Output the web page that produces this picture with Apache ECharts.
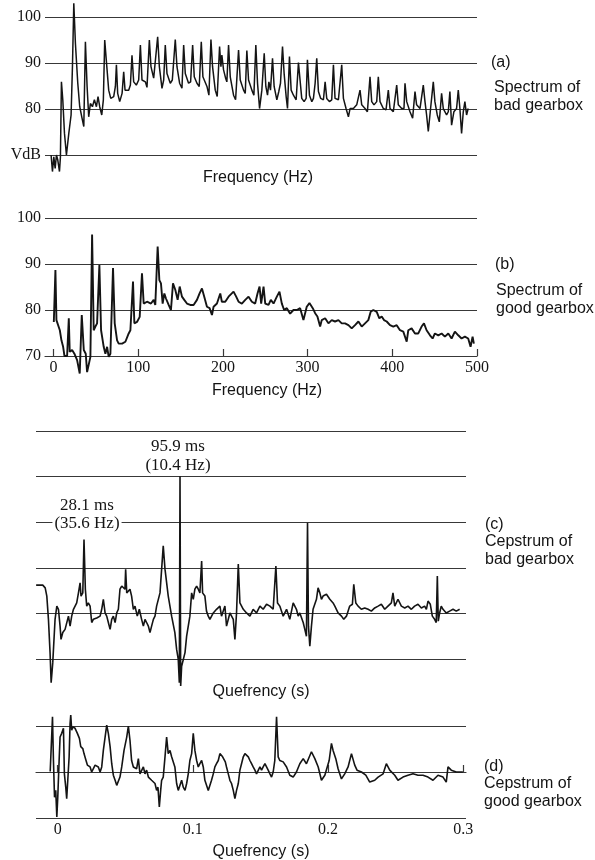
<!DOCTYPE html>
<html>
<head>
<meta charset="utf-8">
<script src="https://cdn.jsdelivr.net/npm/echarts@6/dist/echarts.min.js"></script>
<style>
html,body{margin:0;padding:0;background:#fff;}
#chart{width:595px;height:860px;}
</style>
</head>
<body>
<div id="chart"></div>
<script>
// ---- data ----
// (a) spectrum of bad gearbox: [frequency Hz, level dB]
const badSpectrum = [[-2.8,70.0],[-1.2,66.4],[0.4,69.6],[2.0,67.1],[3.5,70.0],[5.1,68.9],[7.1,66.4],[8.2,69.6],[9.4,85.9],[11.0,82.0],[13.0,74.7],[15.3,70.0],[18.1,74.7],[20.8,78.7],[22.4,89.2],[24.0,103.0],[25.9,94.3],[28.7,85.6],[31.0,80.5],[33.4,78.3],[35.8,76.2],[37.7,94.6],[39.7,84.9],[41.6,78.3],[43.6,81.2],[46.0,80.5],[48.3,82.0],[50.7,80.5],[52.6,82.7],[54.6,80.5],[57.0,78.7],[58.9,82.0],[60.5,95.0],[62.5,90.3],[65.2,84.1],[67.6,82.3],[71.1,82.7],[73.1,84.9],[74.3,89.6],[75.8,83.4],[78.2,81.6],[81.0,83.4],[82.9,88.1],[84.5,84.1],[88.8,84.1],[90.8,85.2],[92.7,91.7],[94.7,85.9],[97.8,85.2],[100.6,86.3],[102.6,93.9],[104.5,86.3],[108.5,85.9],[110.4,84.7],[113.2,95.0],[115.1,89.2],[118.3,86.7],[120.6,86.3],[123.0,95.7],[125.0,89.2],[128.1,84.5],[130.1,86.3],[132.0,93.9],[134.0,87.7],[137.9,85.6],[140.3,86.3],[143.8,95.1],[145.8,89.2],[148.9,85.6],[151.7,84.5],[153.7,93.9],[155.6,87.7],[159.5,85.6],[161.9,85.9],[164.3,93.9],[166.2,87.0],[169.4,85.6],[172.1,84.9],[174.5,94.6],[176.4,87.0],[181.2,84.9],[183.5,83.0],[185.9,95.1],[187.8,89.2],[191.0,84.1],[193.3,82.7],[196.1,93.6],[197.7,89.2],[198.8,91.7],[200.8,88.5],[203.2,86.7],[204.7,85.9],[206.7,93.9],[208.7,87.0],[212.6,83.0],[215.0,82.0],[218.5,92.8],[220.5,86.3],[224.4,84.1],[226.4,83.4],[228.3,92.7],[230.3,86.3],[234.2,84.1],[236.6,83.0],[238.9,93.9],[240.9,85.6],[243.3,80.1],[246.0,84.1],[248.8,92.1],[250.7,84.9],[252.7,83.0],[254.3,85.9],[256.2,84.1],[258.6,91.0],[260.5,84.9],[263.7,82.0],[266.0,83.8],[268.0,85.6],[270.4,93.6],[272.3,87.7],[274.7,82.7],[276.3,80.1],[278.6,91.4],[280.6,84.1],[283.3,83.0],[286.5,82.0],[289.2,90.1],
[293.1,82.3],[295.9,81.6],[298.3,82.3],[299.8,90.7],[302.2,83.0],[305.0,81.6],[306.9,82.3],[308.9,85.6],[310.8,91.0],[312.8,83.8],[315.5,82.3],[318.7,82.0],[320.7,85.9],[322.6,82.3],[325.8,81.6],[328.5,82.0],[330.5,89.6],[332.4,82.3],[336.4,82.0],[338.3,81.6],[340.3,89.6],[342.3,82.3],[345.4,80.1],[348.2,78.3],[350.1,80.1],[354.1,80.1],[358.0,80.9],[361.9,84.1],[363.9,80.9],[367.8,80.1],[370.6,79.4],[373.7,87.0],[375.7,81.6],[378.4,80.9],[381.6,81.6],[383.5,87.0],[385.5,81.6],[389.4,80.1],[392.6,79.8],[395.3,84.1],[397.3,80.1],[401.2,79.4],[405.2,85.2],[407.1,80.9],[411.1,80.1],[413.8,80.1],[415.0,85.6],[417.0,81.6],[420.9,79.4],[424.0,78.0],[426.8,83.8],[428.7,80.9],[432.7,80.1],[436.6,85.2],[438.6,81.6],[440.5,78.7],[442.5,75.1],[445.2,80.1],[448.4,85.9],[450.3,81.6],[453.1,78.7],[455.5,77.2],[458.2,83.4],[460.2,80.1],[464.1,78.7],[466.1,79.4],[468.0,83.8],[470.0,76.5],[472.7,79.4],[475.9,80.1],[477.9,84.1],[479.8,80.1],[481.8,74.7],[483.8,79.4],[485.7,81.6],[487.7,78.7],[489.6,80.1]];

// (b) spectrum of good gearbox: [frequency Hz, level dB]
const goodSpectrum = [[0.4,77.4],[2.3,88.7],[3.5,77.8],[5.5,77.4],[7.5,75.6],[9.4,73.4],[11.4,72.0],[13.0,70.0],[16.1,70.0],[18.1,78.2],[19.2,70.9],[22.0,71.3],[24.7,70.5],[27.9,69.1],[31.0,66.2],[33.4,78.9],[35.8,71.3],[38.1,70.5],[39.7,66.5],[41.6,66.9],[43.6,69.8],[45.6,96.4],[47.5,75.6],[49.5,76.4],[51.5,77.1],[54.2,89.8],[56.2,75.6],[59.3,72.0],[61.3,70.5],[63.3,72.0],[65.2,69.8],[67.2,70.5],[70.3,89.1],[72.3,77.1],[75.1,73.4],[77.0,72.7],[81.0,72.7],[84.9,73.1],[88.8,74.9],[90.8,75.6],[93.9,86.2],[95.5,77.1],[98.6,77.4],[101.8,78.5],[104.5,88.0],[106.5,81.4],[110.4,81.8],[115.1,81.4],[118.3,82.2],[120.2,81.1],[123.0,93.8],[125.0,86.5],[126.9,85.8],[128.9,81.4],[130.9,83.6],[132.8,82.5],[136.0,81.1],[138.7,80.0],[141.1,85.8],[143.8,84.4],[146.6,82.2],[149.0,85.1],[151.7,82.9],[154.4,82.2],[157.6,81.4],[161.5,81.1],[165.4,81.1],[169.4,82.2],[172.5,83.6],[175.3,84.7],[178.0,82.9],[181.2,80.7],[184.3,80.4],[187.1,78.9],[189.0,80.7],[193.0,81.4],[196.9,83.6],[198.8,81.8],[202.8,81.8],[206.7,82.9],[212.6,84.0],[215.7,82.9],[218.5,81.8],[222.4,81.4],[226.4,82.2],[230.3,82.9],[234.2,81.8],[238.1,81.4],[240.9,83.6],[243.3,85.1],[245.2,81.4],[248.0,85.1],[250.0,81.4],[253.9,81.1],[256.6,82.2],[259.8,81.4],[263.7,82.9],[266.8,84.0],[269.6,81.4],[272.3,80.0],[275.5,80.4],[279.4,79.2],[283.3,80.0],[287.3,80.0],[291.2,80.4],[295.1,77.8],[299.0,80.7],[302.2,81.5],[303.8,81.8],[306.1,80.4],[308.9,79.3],[311.6,78.6],[314.8,76.4],[316.7,77.8],[320.7,78.2],[324.6,77.1],[328.5,77.8],[332.4,77.5],[336.4,77.8],[340.3,77.1],[344.2,77.1],[348.2,76.7],[352.1,76.0],[356.0,76.7],[360.0,77.5],[363.9,76.4],[367.8,77.1],[371.7,77.8],[374.5,79.6],[377.6,80.0],[381.6,79.6],[384.7,78.2],[387.5,78.6],[390.2,77.8],[393.4,77.5],[397.3,76.7],[401.2,76.4],[405.2,76.7],[409.1,75.6],[413.0,75.3],[417.0,73.1],[418.9,75.6],[422.8,76.0],[426.8,74.9],[430.7,74.9],[434.6,76.4],[437.4,77.1],[440.5,75.6],[444.5,74.5],[447.6,73.8],[450.3,74.9],[454.3,74.5],[458.2,74.9],[462.1,74.2],[466.1,74.9],[470.0,73.8],[473.9,75.3],[477.9,74.5],[481.8,73.8],[485.7,74.2],[489.6,73.8],[492.4,72.0],[494.8,74.2],[496.3,72.7]];

// (c) cepstrum of bad gearbox: [quefrency s, amplitude]
const badCepstrum = [[-0.0159,0.62],[-0.0110,0.62],[-0.0092,0.56],[-0.0080,0.38],[-0.0068,-0.13],[-0.0056,-0.86],[-0.0048,-1.52],[-0.0036,-1.08],[-0.0019,-0.13],[-0.0006,0.16],[0.0006,0.09],[0.0018,-0.28],[0.0025,-0.57],[0.0038,-0.42],[0.0055,-0.35],[0.0067,-0.35],[0.0080,-0.06],[0.0092,-0.28],[0.0104,-0.06],[0.0117,0.09],[0.0129,0.09],[0.0141,0.23],[0.0154,0.45],[0.0166,0.67],[0.0173,0.38],[0.0186,0.45],[0.0195,1.62],[0.0205,0.53],[0.0215,0.16],[0.0227,0.23],[0.0240,0.16],[0.0252,-0.20],[0.0264,-0.13],[0.0289,-0.10],[0.0314,-0.06],[0.0326,0.09],[0.0338,0.31],[0.0351,0.01],[0.0363,-0.06],[0.0375,-0.20],[0.0388,-0.35],[0.0400,-0.13],[0.0412,-0.06],[0.0425,-0.20],[0.0437,0.01],[0.0449,0.09],[0.0461,0.53],[0.0474,0.60],[0.0498,0.53],[0.0503,0.97],[0.0511,0.45],[0.0535,0.53],[0.0547,0.38],[0.0560,0.09],[0.0572,0.16],[0.0589,-0.06],[0.0604,0.09],[0.0621,-0.13],[0.0634,-0.28],[0.0646,-0.13],[0.0658,-0.20],[0.0671,-0.28],[0.0683,-0.42],[0.0695,-0.28],[0.0708,-0.13],[0.0720,-0.06],[0.0732,0.16],[0.0757,0.45],[0.0781,1.48],[0.0794,0.97],[0.0818,0.38],[0.0843,-0.06],[0.0867,-0.42],[0.0880,-0.79],[0.0892,-1.01],[0.0900,-1.52],[0.0905,3.01],[0.0910,-1.59],[0.0917,-1.16],[0.0929,-1.16],[0.0942,-0.86],[0.0954,-0.50],[0.0978,-0.06],[0.0991,0.45],[0.1003,0.31],[0.1015,0.53],[0.1028,0.60],[0.1040,0.53],[0.1052,0.45],[0.1065,1.15],[0.1072,0.45],[0.1089,0.38],[0.1101,0.05],[0.1114,-0.06],[0.1126,-0.13],[0.1151,0.01],[0.1175,0.09],[0.1200,0.16],[0.1212,-0.06],[0.1237,0.16],[0.1249,-0.28],[0.1274,0.01],[0.1299,-0.13],[0.1311,-0.57],[0.1323,0.01],[0.1336,1.08],[0.1348,0.23],[0.1373,0.09],[0.1397,0.01],[0.1422,-0.06],[0.1446,0.09],[0.1471,0.01],[0.1496,0.16],[0.1520,0.09],[0.1545,0.20],[0.1570,0.16],[0.1594,0.09],[0.1614,1.04],[0.1626,0.23],[0.1643,0.16],[0.1668,-0.06],[0.1693,0.09],[0.1717,-0.13],[0.1742,0.23],[0.1754,0.27],[0.1766,0.09],[0.1779,-0.06],[0.1791,0.01],[0.1816,-0.20],[0.1828,-0.35],[0.1840,-0.50],[0.1848,1.99],[0.1855,-0.28],[0.1865,-0.72],[0.1877,-0.28],[0.1889,0.09],[0.1914,0.31],[0.1926,0.56],[0.1939,0.45],[0.1951,0.31],[0.1963,0.38],[0.1988,0.42],[0.2013,0.31],[0.2037,0.23],[0.2050,0.16],[0.2074,0.01],[0.2099,-0.06],[0.2116,-0.13],[0.2136,-0.06],[0.2160,0.16],[0.2180,0.20],[0.2190,0.64],[0.2205,0.23],[0.2222,0.16],[0.2246,0.09],[0.2271,0.12],[0.2296,0.09],[0.2320,0.05],[0.2345,0.12],[0.2370,0.16],[0.2394,0.20],[0.2419,0.09],[0.2443,0.16],[0.2468,0.23],[0.2480,0.45],[0.2493,0.16],[0.2517,0.31],[0.2542,0.16],[0.2567,0.12],[0.2591,0.16],[0.2616,0.09],[0.2640,0.16],[0.2665,0.20],[0.2690,0.12],[0.2714,0.16],[0.2727,0.09],[0.2739,0.27],[0.2756,0.20],[0.2771,-0.06],[0.2788,-0.13],[0.2800,-0.20],[0.2808,0.82],[0.2815,-0.17],[0.2825,0.01],[0.2837,0.16],[0.2850,0.09],[0.2874,0.01],[0.2899,0.05],[0.2924,0.09],[0.2948,0.05],[0.2973,0.09]];

// (d) cepstrum of good gearbox: [quefrency s, amplitude]
const goodCepstrum = [[-0.0055,0.01],[-0.0043,0.01],[-0.0038,1.20],[-0.0031,0.25],[-0.0023,-0.55],[-0.0014,-0.40],[-0.0006,-0.98],[0.0001,-0.55],[0.0011,0.25],[0.0018,0.76],[0.0030,0.84],[0.0043,0.95],[0.0050,-0.04],[0.0060,-0.33],[0.0067,-0.58],[0.0075,-0.18],[0.0085,0.33],[0.0092,1.05],[0.0097,1.24],[0.0104,0.91],[0.0112,0.98],[0.0129,0.95],[0.0146,0.84],[0.0161,0.73],[0.0171,0.55],[0.0186,0.51],[0.0195,0.40],[0.0210,0.25],[0.0220,0.15],[0.0230,0.18],[0.0240,0.11],[0.0252,0.00],[0.0264,-0.04],[0.0277,0.15],[0.0289,0.18],[0.0301,0.11],[0.0314,0.00],[0.0326,0.11],[0.0338,0.47],[0.0351,0.76],[0.0363,1.02],[0.0375,0.84],[0.0388,0.55],[0.0400,0.18],[0.0412,-0.07],[0.0425,-0.18],[0.0437,-0.29],[0.0449,-0.25],[0.0461,-0.11],[0.0474,0.11],[0.0491,0.47],[0.0511,0.76],[0.0523,1.00],[0.0535,0.69],[0.0547,0.25],[0.0560,0.11],[0.0572,0.15],[0.0584,0.07],[0.0597,0.29],[0.0609,-0.04],[0.0621,0.00],[0.0634,0.11],[0.0646,-0.04],[0.0658,0.04],[0.0671,-0.11],[0.0683,-0.07],[0.0695,-0.18],[0.0708,-0.18],[0.0720,-0.25],[0.0732,-0.40],[0.0742,-0.33],[0.0752,-0.76],[0.0762,-0.40],[0.0769,-0.18],[0.0781,-0.11],[0.0794,0.33],[0.0806,0.76],[0.0818,0.40],[0.0831,0.47],[0.0843,0.33],[0.0855,0.29],[0.0867,0.11],[0.0880,-0.25],[0.0892,-0.40],[0.0905,-0.40],[0.0917,-0.18],[0.0929,-0.33],[0.0942,-0.40],[0.0954,-0.25],[0.0966,-0.04],[0.0978,0.25],[0.0991,0.40],[0.1003,0.84],[0.1015,0.47],[0.1028,0.25],[0.1040,0.11],[0.1052,0.18],[0.1065,0.25],[0.1077,0.11],[0.1089,-0.18],[0.1101,-0.22],[0.1114,-0.40],[0.1126,-0.40],[0.1138,-0.18],[0.1151,-0.04],[0.1163,0.11],[0.1175,0.18],[0.1188,0.25],[0.1200,0.40],[0.1212,0.40],[0.1220,0.33],[0.1230,0.36],[0.1240,0.22],[0.1249,0.11],[0.1262,-0.04],[0.1274,-0.18],[0.1286,-0.25],[0.1299,-0.40],[0.1311,-0.58],[0.1323,-0.40],[0.1336,-0.25],[0.1348,0.04],[0.1360,0.18],[0.1373,0.33],[0.1385,0.40],[0.1397,0.36],[0.1410,0.33],[0.1422,0.25],[0.1434,0.18],[0.1446,0.11],[0.1459,0.04],[0.1471,-0.04],[0.1483,0.00],[0.1496,0.11],[0.1508,0.04],[0.1520,0.11],[0.1533,0.18],[0.1545,0.11],[0.1557,0.04],[0.1570,-0.04],[0.1582,-0.11],[0.1594,0.00],[0.1606,0.25],[0.1619,1.20],[0.1631,0.33],[0.1643,0.25],[0.1668,0.22],[0.1693,0.11],[0.1717,-0.07],[0.1742,-0.11],[0.1766,0.00],[0.1791,0.18],[0.1816,0.29],[0.1840,0.18],[0.1877,0.44],[0.1902,0.29],[0.1927,0.11],[0.1951,-0.18],[0.1976,-0.07],[0.2008,0.25],[0.2025,0.62],[0.2037,0.47],[0.2057,0.29],[0.2074,0.07],[0.2099,-0.15],[0.2123,-0.04],[0.2148,0.11],[0.2173,0.40],[0.2197,0.15],[0.2214,0.04],[0.2247,0.00],[0.2279,-0.07],[0.2308,-0.22],[0.2345,-0.18],[0.2370,-0.11],[0.2407,-0.04],[0.2431,0.18],[0.2456,0.04],[0.2493,-0.07],[0.2517,-0.18],[0.2554,-0.11],[0.2591,-0.07],[0.2628,-0.04],[0.2665,-0.07],[0.2702,-0.07],[0.2739,-0.11],[0.2776,-0.18],[0.2813,-0.07],[0.2850,-0.11],[0.2874,-0.22],[0.2887,0.11],[0.2911,0.04],[0.2948,0.00],[0.2997,0.00]];

const freqTicks = [0, 100, 200, 300, 400, 500];
const quefTicks = [0, 0.1, 0.2, 0.3];
const dbTicks = [70, 80, 90, 100];

// ---- styles ----
const ink = '#141414';
const rule = '#383838';
const serif = '"Liberation Serif", "DejaVu Serif", serif';
const sans = '"Liberation Sans", Arial, sans-serif';

const chart = echarts.init(document.getElementById('chart'), null, {renderer: 'canvas'});

function hiddenX(idx, min, max) {
  return {gridIndex: idx, type: 'value', min, max,
    axisLine: {show: false}, axisTick: {show: false}, axisLabel: {show: false}, splitLine: {show: false}};
}
function shownX(idx, min, max, ticks, fmt) {
  return {gridIndex: idx, type: 'value', min, max,
    axisLine: {show: true, lineStyle: {color: rule, width: 1.2}},
    axisTick: {show: true, inside: true, length: 7, customValues: ticks, lineStyle: {color: rule, width: 1.2}},
    axisLabel: {show: true, customValues: ticks, margin: 4, color: ink, fontFamily: serif, fontSize: 16, formatter: fmt},
    splitLine: {show: false}};
}
function yAx(idx, min, max, interval, labels) {
  return {gridIndex: idx, type: 'value', min, max, interval,
    axisLine: {show: false}, axisTick: {show: false},
    axisLabel: labels ? {show: true, margin: 4, color: ink, fontFamily: serif, fontSize: 16,
      formatter: v => labels(v)} : {show: false},
    splitLine: {show: true, lineStyle: {color: rule, width: 1.2}}};
}
function lineSeries(idx, data, w) {
  return {type: 'line', xAxisIndex: idx, yAxisIndex: idx, data, showSymbol: false, symbol: 'none',
    clip: false, smooth: false, lineStyle: {color: ink, width: w}, z: 5, silent: true};
}
function txt(x, y, text, font, align, extra) {
  return Object.assign({type: 'text', x, y, z: 20, silent: true,
    style: Object.assign({text, font, fill: ink, align: align || 'left', verticalAlign: 'middle'}, extra || {})});
}

const option = {
  animation: false,
  backgroundColor: '#fff',
  grid: [
    {left: 45, top: 17, width: 432, height: 138},
    {left: 45, top: 218, width: 432, height: 138},
    {left: 36, top: 431, width: 430, height: 228},
    {left: 36, top: 726, width: 430, height: 92}
  ],
  xAxis: [
    hiddenX(0, -10, 500),
    shownX(1, -10, 500, freqTicks, v => String(v)),
    hiddenX(2, -0.016, 0.302),
    shownX(3, -0.016, 0.302, quefTicks, v => String(v))
  ],
  yAxis: [
    yAx(0, dbTicks[0], dbTicks[3], 10, v => v === 70 ? 'VdB' : String(v)),
    yAx(1, dbTicks[0], dbTicks[3], 10, v => String(v)),
    yAx(2, -1, 4, 1, null),
    yAx(3, -1, 1, 1, null)
  ],
  series: [
    lineSeries(0, badSpectrum, 1.5),
    lineSeries(1, goodSpectrum, 1.9),
    lineSeries(2, badCepstrum, 1.6),
    lineSeries(3, goodCepstrum, 1.6)
  ],
  graphic: [
    txt(258, 178, 'Frequency (Hz)', '16px ' + sans, 'center'),
    txt(267, 391, 'Frequency (Hz)', '16px ' + sans, 'center'),
    txt(261, 692, 'Quefrency (s)', '16px ' + sans, 'center'),
    txt(261, 852, 'Quefrency (s)', '16px ' + sans, 'center'),

    txt(491, 63, '(a)', '16px ' + sans),
    txt(494, 88, 'Spectrum of', '16px ' + sans),
    txt(494, 106, 'bad gearbox', '16px ' + sans),
    txt(495, 265, '(b)', '16px ' + sans),
    txt(496, 291, 'Spectrum of', '16px ' + sans),
    txt(496, 309, 'good gearbox', '16px ' + sans),
    txt(485, 525, '(c)', '16px ' + sans),
    txt(485, 542, 'Cepstrum of', '16px ' + sans),
    txt(485, 560, 'bad gearbox', '16px ' + sans),
    txt(484, 767, '(d)', '16px ' + sans),
    txt(484, 784, 'Cepstrum of', '16px ' + sans),
    txt(484, 802, 'good gearbox', '16px ' + sans),

    txt(178, 447, '95.9 ms', '17px ' + serif, 'center'),
    txt(178, 466, '(10.4 Hz)', '17px ' + serif, 'center', {backgroundColor: '#fff', padding: [0, 2]}),
    txt(87, 506, '28.1 ms', '17px ' + serif, 'center'),
    txt(87, 524, '(35.6 Hz)', '17px ' + serif, 'center', {backgroundColor: '#fff', padding: [0, 2]})
  ]
};
chart.setOption(option);
</script>
</body>
</html>
